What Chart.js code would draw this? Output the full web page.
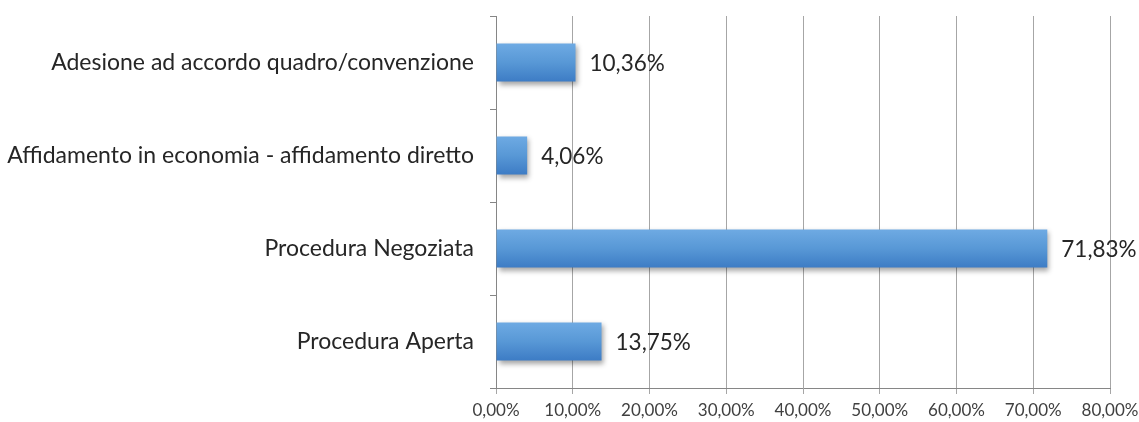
<!DOCTYPE html>
<html>
<head>
<meta charset="utf-8">
<script src="https://cdn.jsdelivr.net/npm/chart.js@4.4.1/dist/chart.umd.min.js"></script>
<style>
  html, body { margin: 0; padding: 0; background: #fff; }
  #wrap { width: 1139px; height: 422px; position: relative; }
</style>
</head>
<body>
<div id="wrap"><canvas id="chart"></canvas></div>
<script>
const categories = [
    'Adesione ad accordo quadro/convenzione',
    'Affidamento in economia - affidamento diretto',
    'Procedura Negoziata',
    'Procedura Aperta'
];
const shares = [10.36, 4.06, 71.83, 13.75];
const xTicks = [0, 10, 20, 30, 40, 50, 60, 70, 80];

const FONT = 'Lato';

function pct(v) {
    return v.toFixed(2).replace('.', ',') + '%';
}

// vertical gradient for each horizontal bar
function barFill(ctx) {
    const chart = ctx.chart;
    const y = chart.scales.y;
    if (!chart.chartArea || !y || ctx.dataIndex === undefined) return '#5b9bd5';
    const c = y.getPixelForValue(ctx.dataIndex);
    const h = 19;
    const g = chart.ctx.createLinearGradient(0, c - h, 0, c + h);
    g.addColorStop(0, '#6eaae3');
    g.addColorStop(0.5, '#5898d6');
    g.addColorStop(1, '#3d7cc5');
    return g;
}

const barShadow = {
    id: 'barShadow',
    beforeDatasetDraw(chart) {
        const c = chart.ctx;
        c.save();
        c.shadowColor = 'rgba(0,0,0,0.35)';
        c.shadowBlur = 5;
        c.shadowOffsetX = 2;
        c.shadowOffsetY = 3;
    },
    afterDatasetDraw(chart) {
        chart.ctx.restore();
    }
};

const valueLabels = {
    id: 'valueLabels',
    afterDatasetsDraw(chart) {
        const c = chart.ctx;
        const meta = chart.getDatasetMeta(0);
        c.save();
        c.font = '22.5px ' + FONT;
        c.fillStyle = '#262626';
        c.textAlign = 'left';
        c.textBaseline = 'middle';
        meta.data.forEach((bar, i) => {
            c.fillText(pct(shares[i]), bar.x + 14, bar.y + 1);
        });
        c.restore();
    }
};

new Chart(document.getElementById('chart'), {
    type: 'bar',
    data: {
        labels: categories,
        datasets: [{
            data: shares,
            backgroundColor: barFill,
            borderWidth: 0,
            categoryPercentage: 1,
            barPercentage: 0.41
        }]
    },
    options: {
        indexAxis: 'y',
        responsive: true,
        maintainAspectRatio: false,
        animation: false,
        layout: { padding: { top: 16, right: 29, left: 0, bottom: 0 } },
        plugins: {
            legend: { display: false },
            tooltip: { enabled: false }
        },
        scales: {
            x: {
                min: 0,
                max: 80,
                afterBuildTicks: (scale) => { scale.ticks = xTicks.map(v => ({ value: v })); },
                afterFit: (scale) => {
                    scale.height = 34;
                    scale.paddingLeft = 0;
                    scale.paddingRight = 0;
                },
                grid: { color: '#a6a6a6', lineWidth: 1, tickLength: 6 },
                border: { color: '#868686' },
                ticks: {
                    color: '#404040',
                    font: { family: FONT, size: 17 },
                    padding: 6,
                    maxRotation: 0,
                    callback: (v) => pct(v)
                }
            },
            y: {
                afterFit: (scale) => {
                    scale.width = 496;
                    scale.paddingTop = 0;
                    scale.paddingBottom = 0;
                },
                grid: { offset: true, drawOnChartArea: false, color: '#868686', tickLength: 6 },
                border: { color: '#868686' },
                ticks: {
                    color: '#262626',
                    font: { family: FONT, size: 23 },
                    padding: 16
                }
            }
        }
    },
    plugins: [barShadow, valueLabels]
});
</script>
</body>
</html>
